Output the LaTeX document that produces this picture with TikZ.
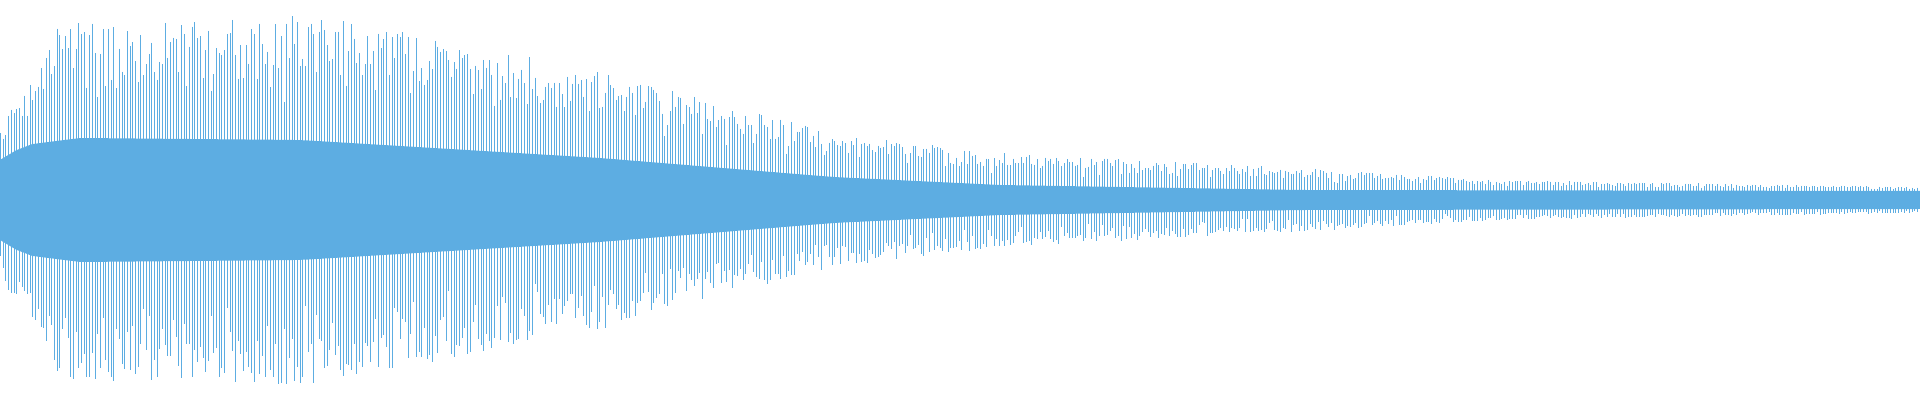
\documentclass[tikz,border=0pt]{standalone}
\definecolor{wave}{RGB}{93,173,226}
\pgfmathdeclarefunction{envp}{1}{%
  \pgfmathparse{#1<12 ? 67+#1/12*33 : (#1<40 ? 100+(#1-12)/28*30 : (#1<60 ? 130+(#1-40)/20*50 : (#1<320 ? 180+(#1-60)/260*5 : (#1<600 ? 185-(#1-320)/280*55 : (#1<833 ? 130-(#1-600)/233*63 : (#1<1000 ? 67-(#1-833)/167*20 : (#1<1300 ? 47-(#1-1000)/300*15 : (#1<1500 ? 32-(#1-1300)/200*12 : 20-(#1-1500)/420*7))))))))}%
}
\pgfmathdeclarefunction{envb}{1}{%
  \pgfmathparse{#1<25 ? 40+#1/25*15 : (#1<80 ? 55+(#1-25)/55*7 : (#1<300 ? 62-(#1-80)/220*2 : (#1<600 ? 60-(#1-300)/300*18 : (#1<833 ? 42-(#1-600)/233*19 : (#1<1000 ? 23-(#1-833)/167*8 : (#1<1300 ? 15-(#1-1000)/300*5 : 10-(#1-1300)/620*1))))))}%
}
\begin{document}
\begin{tikzpicture}[x=0.5pt,y=-0.5pt,line width=0.5pt]
\useasboundingbox (0,0) rectangle (1920,400);
\pgfmathsetseed{7}
\fill[wave] plot[domain=0:1920,samples=120] (\x,{200-envb(\x)}) -- plot[domain=1920:0,samples=120] (\x,{200+envb(\x)}) -- cycle;
\foreach \i in {0,...,710}{
  \pgfmathsetmacro{\xx}{\i*2.7+0.5}
  \pgfmathsetmacro{\p}{envp(\xx)}
  \pgfmathsetmacro{\b}{envb(\xx)}
  \pgfmathsetmacro{\t}{\b+(\p-\b)*(0.3+0.7*sqrt(rnd))}
  \pgfmathsetmacro{\u}{\b+(\p-\b)*(0.3+0.7*sqrt(rnd))}
  \draw[wave] (\xx,200-\t) -- (\xx,200+\u);
}
\end{tikzpicture}
\end{document}
